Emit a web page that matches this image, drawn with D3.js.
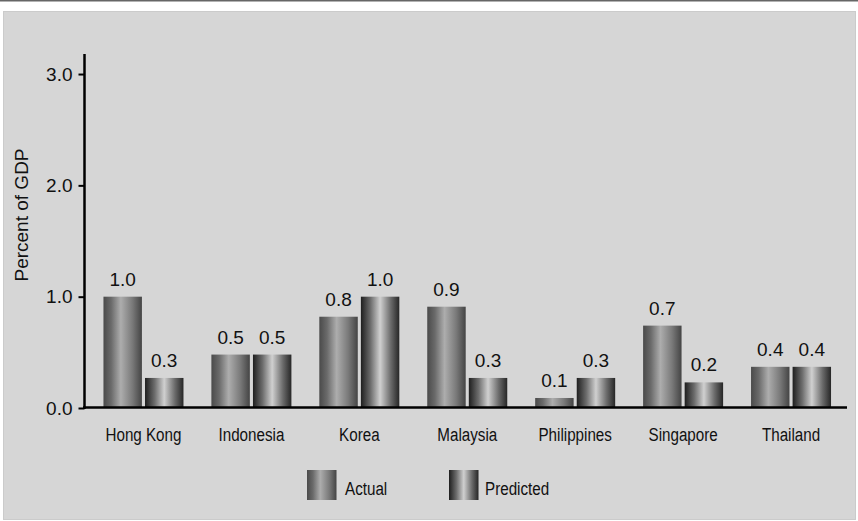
<!DOCTYPE html>
<html>
<head>
<meta charset="utf-8">
<script src="https://cdn.jsdelivr.net/npm/d3@7"></script>
<style>
  html, body { margin: 0; padding: 0; background: #ffffff; }
  svg { display: block; }
  .num { font-family: "Liberation Sans", Arial, sans-serif; font-size: 19px; fill: #111; }
  .narrow { font-family: "Liberation Sans", Arial, sans-serif; font-size: 19px; fill: #111; }
</style>
</head>
<body>
<script>
// ---- data ----
const categories = ["Hong Kong", "Indonesia", "Korea", "Malaysia", "Philippines", "Singapore", "Thailand"];
const actual = [1.0, 0.48, 0.82, 0.91, 0.09, 0.74, 0.37];
const predicted = [0.27, 0.48, 1.0, 0.27, 0.27, 0.23, 0.37];
const seriesNames = ["Actual", "Predicted"];
const yTicks = [0, 1, 2, 3];
const yTitle = "Percent of GDP";

const W = 858, H = 521;
const svg = d3.select("body").append("svg").attr("width", W).attr("height", H);

// gradients
const defs = svg.append("defs");
function grad(id, stops) {
  const g = defs.append("linearGradient").attr("id", id)
    .attr("x1", "0%").attr("x2", "100%").attr("y1", "0%").attr("y2", "0%");
  stops.forEach(s => g.append("stop").attr("offset", s[0]).attr("stop-color", s[1]));
}
grad("gActual", [["0%", "#4a4a4a"], ["20%", "#6a6a6a"], ["45%", "#adadad"], ["75%", "#7a7a7a"], ["100%", "#444444"]]);
grad("gPred", [["0%", "#1e1e1e"], ["25%", "#6c6c6c"], ["50%", "#d0d0d0"], ["78%", "#6a6a6a"], ["100%", "#262626"]]);
const fills = ["url(#gActual)", "url(#gPred)"];

// background
svg.append("rect").attr("x", 0).attr("y", 0).attr("width", W).attr("height", 1.5).attr("fill", "#666");
svg.append("rect").attr("x", 3.5).attr("y", 11.5).attr("width", 852).attr("height", 508)
  .attr("fill", "#d6d6d6").attr("stroke", "#cbcbcb").attr("stroke-width", 1);

// scales
const x = d3.scaleBand().domain(categories).range([89.5, 845]).paddingInner(0).paddingOuter(0);
const xs = d3.scaleBand().domain(seriesNames).range([-40, 40]).paddingInner(0.075);
const y = d3.scaleLinear().domain([0, 3.18]).range([408, 54]);

const rows = categories.map((c, i) => ({ c, vals: [actual[i], predicted[i]] }));

// bars
const groups = svg.append("g").selectAll("g").data(rows).join("g")
  .attr("transform", d => `translate(${x(d.c) + x.bandwidth() / 2},0)`);
groups.selectAll("rect").data(d => d.vals.map((v, k) => ({ v, k }))).join("rect")
  .attr("x", d => xs(seriesNames[d.k]))
  .attr("width", xs.bandwidth())
  .attr("y", d => y(d.v))
  .attr("height", d => y(0) - y(d.v))
  .attr("fill", d => fills[d.k]);
groups.selectAll("text").data(d => d.vals.map((v, k) => ({ v, k }))).join("text")
  .attr("class", "num")
  .attr("text-anchor", "middle")
  .attr("x", d => xs(seriesNames[d.k]) + xs.bandwidth() / 2)
  .attr("y", d => y(d.v) - 11)
  .text(d => d3.format(".1f")(d.v));

// y axis
const yAxis = svg.append("g").attr("transform", "translate(84.5,0)")
  .call(d3.axisLeft(y).tickValues(yTicks).tickFormat(d3.format(".1f")).tickSize(6).tickPadding(6));
yAxis.select(".domain").remove();
yAxis.selectAll(".tick line").attr("stroke", "#000").attr("stroke-width", 2);
yAxis.selectAll(".tick text").attr("class", "num").attr("fill", "#111").attr("font-size", null).attr("font-family", null);
svg.append("line").attr("x1", 84.5).attr("x2", 84.5).attr("y1", y.range()[1]).attr("y2", 409)
  .attr("stroke", "#000").attr("stroke-width", 2.5);

// x axis
const xAxis = svg.append("g").attr("transform", "translate(0,408)")
  .call(d3.axisBottom(x).tickSize(0).tickPadding(20));
xAxis.select(".domain").remove();
xAxis.selectAll(".tick text").attr("class", "narrow").attr("fill", "#111")
  .attr("font-size", null).attr("font-family", null)
  .attr("transform", "scale(0.8,1)");
svg.append("line").attr("x1", 83).attr("x2", 847).attr("y1", 407.5).attr("y2", 407.5)
  .attr("stroke", "#000").attr("stroke-width", 2.5);

// y title
svg.append("text").attr("class", "num")
  .attr("transform", "translate(27.5,215) rotate(-90)")
  .attr("text-anchor", "middle")
  .text(yTitle);

// legend
const legendX = [307, 449];
const leg = svg.append("g").selectAll("g").data(seriesNames).join("g")
  .attr("transform", (d, i) => `translate(${legendX[i]},470)`);
leg.append("rect").attr("width", 29.5).attr("height", 30).attr("fill", (d, i) => fills[i]);
leg.append("text").attr("class", "narrow")
  .attr("transform", (d, i) => `translate(${[38, 36][i]},25) scale(0.8,1)`)
  .text(d => d);
</script>
</body>
</html>
